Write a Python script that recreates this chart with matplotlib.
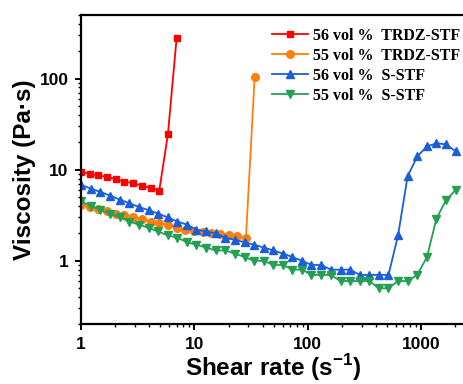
import numpy as np
import matplotlib.pyplot as plt

plt.rcParams['mathtext.fontset'] = 'custom'
plt.rcParams['mathtext.rm'] = 'Liberation Sans:bold'
plt.rcParams['mathtext.bf'] = 'Liberation Sans:bold'

# shear rate grids
rate_trdz = [1.00, 1.19, 1.42, 1.70, 2.02, 2.41, 2.88, 3.44, 4.10, 4.89, 5.83, 6.96,
             8.30, 9.90, 11.8, 14.1, 16.8, 20.0, 23.9, 28.5, 34.0]
rate_s = [1.00, 1.22, 1.48, 1.80, 2.19, 2.65, 3.23, 3.93, 4.77, 5.80, 7.05, 8.57,
          10.4, 12.7, 15.4, 18.7, 22.8, 27.7, 33.6, 40.9, 49.7, 60.4, 73.4, 89.2,
          108, 132, 160, 195, 237, 288, 350, 425, 517, 628, 763, 928,
          1130, 1370, 1660, 2020]

# viscosity (Pa s)
visc_56_trdz = [9.5, 9.0, 8.7, 8.3, 7.9, 7.4, 7.1, 6.7, 6.3, 5.9, 24.5, 280]
visc_55_trdz = [4.1, 3.9, 3.7, 3.5, 3.3, 3.2, 3.0, 2.9, 2.7, 2.6, 2.5, 2.3, 2.2,
                2.1, 2.05, 2.0, 1.95, 1.9, 1.85, 1.8, 103]
visc_56_s = [6.8, 6.2, 5.7, 5.2, 4.7, 4.3, 3.9, 3.6, 3.3, 3.0, 2.7, 2.5, 2.2,
             2.1, 2.0, 1.8, 1.7, 1.6, 1.5, 1.4, 1.3, 1.2, 1.1, 1.0,
             0.9, 0.9, 0.8, 0.8, 0.8, 0.7, 0.7, 0.7, 0.7, 1.9, 8.5, 14,
             18, 19.5, 19, 16]
visc_55_s = [4.5, 4.0, 3.6, 3.3, 3.0, 2.7, 2.5, 2.3, 2.1, 1.9, 1.8, 1.6, 1.5,
             1.4, 1.3, 1.3, 1.2, 1.1, 1.0, 1.0, 0.9, 0.9, 0.8, 0.8,
             0.7, 0.7, 0.7, 0.6, 0.6, 0.6, 0.6, 0.5, 0.5, 0.6, 0.6, 0.7,
             1.1, 2.9, 4.6, 6.0]

labels = ['56 vol %  TRDZ-STF', '55 vol %  TRDZ-STF', '56 vol %  S-STF', '55 vol %  S-STF']

fig = plt.figure(figsize=(4.64, 3.84), dpi=100)
ax = fig.add_axes([0.175, 0.155, 0.825, 0.806])

ax.plot(rate_trdz[:len(visc_56_trdz)], visc_56_trdz, '-s', color='#ff0000', lw=1.3, ms=5, label=labels[0])
ax.plot(rate_trdz[:len(visc_55_trdz)], visc_55_trdz, '-o', color='#ff7f0e', lw=1.3, ms=5.5, label=labels[1])
ax.plot(rate_s, visc_56_s, '-^', color='#1a5fd8', lw=1.3, ms=5.5, label=labels[2])
ax.plot(rate_s, visc_55_s, '-v', color='#23a052', lw=1.3, ms=5.5, label=labels[3])

ax.set_xscale('log')
ax.set_yscale('log')
ax.set_xlim(1, 2400)
ax.set_ylim(0.2, 500)
ax.set_xticks([1, 10, 100, 1000])
ax.set_xticklabels(['1', '10', '100', '1000'])
ax.set_yticks([1, 10, 100])
ax.set_yticklabels(['1', '10', '100'])

for s in ['left', 'bottom', 'top']:
    ax.spines[s].set_linewidth(1.6)
ax.spines['right'].set_visible(False)
ax.tick_params(which='major', direction='out', length=4, width=1.4, labelsize=12.5, pad=5)
ax.tick_params(which='minor', direction='out', length=2.5, width=1.0)
for t in ax.get_xticklabels() + ax.get_yticklabels():
    t.set_fontweight('bold')
    t.set_family('Liberation Sans')

ax.set_xlabel('Shear rate (s$^{-1}$)', fontsize=17.5, fontweight='bold',
              family='Liberation Sans', labelpad=0)
ax.set_ylabel('Viscosity (Pa·s)', fontsize=17.5, fontweight='bold',
              family='Liberation Sans', labelpad=3)

ax.legend(loc='upper right', frameon=False, prop={'family': 'Liberation Serif', 'weight': 'bold', 'size': 11.5},
          handlelength=2.3, handletextpad=0.3, labelspacing=0.25, borderaxespad=0.2,
          bbox_to_anchor=(1.015, 0.99))

fig.savefig('out.png', dpi=100)
